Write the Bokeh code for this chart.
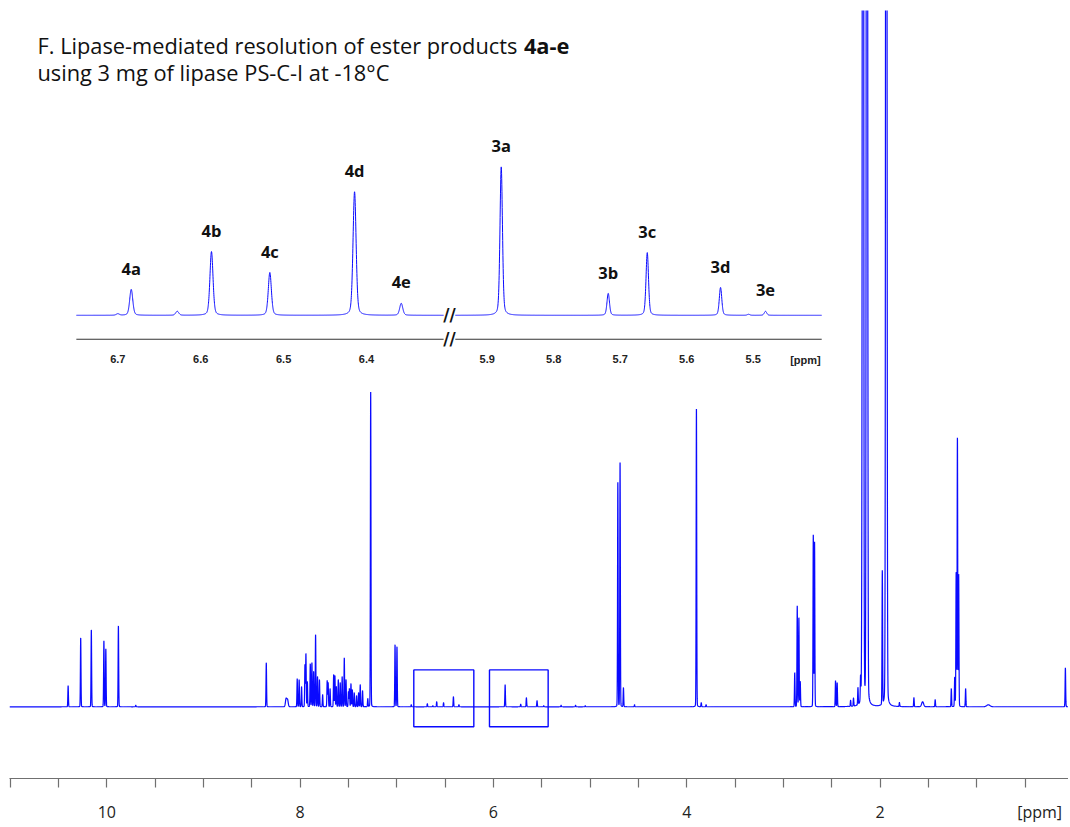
import numpy as np
from bokeh.plotting import figure
from bokeh.models import Range1d, FixedTicker, Label
from bokeh.core.properties import value
from bokeh.embed import file_html
from bokeh.resources import INLINE

# ---------------- data: main 1H spectrum peak list (ppm, intensity, half-width) ----------------
main_ppm = [10.40, 10.27, 10.16, 10.03, 10.01, 9.88, 9.70,
            8.35, 8.145, 8.13, 8.03, 8.01, 7.985, 7.95, 7.94, 7.925, 7.895, 7.878, 7.86, 7.84, 7.82,
            7.80, 7.767, 7.72, 7.71, 7.69, 7.653, 7.64, 7.625, 7.605, 7.585, 7.565, 7.543, 7.525,
            7.50, 7.49, 7.474, 7.46, 7.44, 7.416, 7.395, 7.378, 7.354, 7.30, 7.27,
            7.018, 6.998, 6.85,
            6.684, 6.627, 6.587, 6.516, 6.414, 6.357,
            5.879, 5.718, 5.659, 5.549, 5.48, 5.30, 5.15, 5.05,
            4.713, 4.690, 4.655, 4.54, 3.90, 3.85, 3.80,
            2.883, 2.857, 2.840, 2.826, 2.691, 2.678, 2.461, 2.444,
            2.305, 2.275, 2.229, 2.202, 2.19, 2.177, 2.136, 2.125,
            1.977, 1.936, 1.925, 1.80, 1.65, 1.56, 1.43,
            1.263, 1.228, 1.213, 1.200, 1.187, 1.115, 0.88, 0.083]
main_int = [21, 69, 77, 66, 58, 81, 1.5,
            44, 8, 7, 28, 27, 20, 42, 53, 25, 43, 44, 35, 72, 30,
            27, 12, 26, 24, 18, 32, 31, 20, 27, 24, 30, 49, 27,
            15, 18, 23, 17, 14, 11, 14, 22, 16, 8, 316,
            62, 60, 2,
            3, 1, 5, 4, 10, 2,
            22, 2.5, 9, 6, 1, 1.5, 1.5, 1,
            225, 245, 19, 2, 299, 4, 2,
            34, 101, 89, 25, 172, 165, 26, 24,
            6, 8, 17, 24, 30, 2500, 2500, 25,
            134, 2500, 28, 4, 9, 5, 7,
            18, 29, 134, 269, 132, 18, 2, 39]
main_hw = [0.0035] * len(main_ppm)
for i, ppm in enumerate(main_ppm):
    if ppm in (8.145, 8.13):
        main_hw[i] = 0.008
    if ppm in (1.56,):
        main_hw[i] = 0.012
    if ppm in (0.88,):
        main_hw[i] = 0.02
    if ppm in (2.177, 2.136, 1.936):
        main_hw[i] = 0.006
main_eta = 0.05

# boxes marking the expanded regions (ppm)
box_left = [6.824, 6.041]
box_right = [6.203, 5.434]

# main axis ticks (labels on even ppm values)
main_ticks = [11.0 - 0.5 * k for k in range(22)]

# ---------------- data: inset expansions ----------------
insL_ppm = [6.700, 6.6838, 6.6283, 6.5870, 6.5166, 6.4144, 6.3581]
insL_int = [1.5, 26, 4, 64, 43, 124, 12]
insR_ppm = [5.8789, 5.7180, 5.6593, 5.5491, 5.507, 5.4815]
insR_int = [149, 22, 63, 28, 1, 4]
inset_hw = 0.0022
inset_eta = 0.3

insL_lab_ppm = [6.6838, 6.5870, 6.5166, 6.4144, 6.3581]
insL_lab_int = [26, 64, 43, 124, 12]
insL_lab = ["4a", "4b", "4c", "4d", "4e"]
insR_lab_ppm = [5.8789, 5.7180, 5.6593, 5.5491, 5.4815]
insR_lab_int = [149, 22, 63, 28, 4]
insR_lab = ["3a", "3b", "3c", "3d", "3e"]

insL_limits = [6.75, 6.307]
insR_limits = [5.948, 5.397]
insL_ticks = [6.7, 6.6, 6.5, 6.4]
insR_ticks = [5.9, 5.8, 5.7, 5.6, 5.5]
break_ppm = 6.30


def spectrum(xs, pos, hgt, hw, eta):
    xs = np.asarray(xs, dtype=float)[:, None]
    pos = np.asarray(pos, dtype=float)[None, :]
    hgt = np.asarray(hgt, dtype=float)[None, :]
    hw = np.asarray(hw, dtype=float)[None, :] if np.ndim(hw) else hw
    u = ((xs - pos) / hw) ** 2
    shape = (1 - eta) * np.exp(-np.log(2) * u) + eta / (1.0 + u)
    return (hgt * shape).sum(axis=1)


BLUE = "#0a0aff"
X0, X1 = 11.0066, 0.0508

p = figure(width=1068, height=825,
           x_range=Range1d(X0, X1), y_range=Range1d(-72, 699),
           y_axis_location=None, output_backend="svg", toolbar_location=None,
           min_border_left=9, min_border_right=0, min_border_top=10, min_border_bottom=44)
p.grid.visible = False
p.outline_line_color = None
p.background_fill_color = "white"
p.border_fill_color = "white"

p.extra_x_ranges = {"insL": Range1d(6.83064, 5.5532), "insR": Range1d(6.61835, 5.02587)}
p.extra_y_ranges = {"ins": Range1d(-465, 306)}

# main spectrum
xs = np.linspace(X0, X1, 40000)
xs = np.sort(np.concatenate([xs, np.array(main_ppm)]))[::-1]
ys = spectrum(xs, main_ppm, main_int, main_hw, main_eta)
p.line(xs, ys, line_color=BLUE, line_width=1.2)

# boxes
p.quad(left=box_left, right=box_right, bottom=[-20, -20], top=[37, 37],
       fill_color=None, line_color=BLUE, line_width=1.4)

# main axis
ax = p.xaxis[0]
ax.ticker = FixedTicker(ticks=main_ticks)
overrides = {}
for t in main_ticks:
    if abs(t - round(t)) < 1e-9 and int(round(t)) % 2 == 0:
        overrides[t] = str(int(round(t)))
    else:
        overrides[t] = ""
overrides[0.5] = "\u00a0" * 7 + "[ppm]"
ax.major_label_overrides = overrides
ax.minor_tick_line_color = None
ax.major_tick_in = 0
ax.major_tick_out = 9
ax.axis_line_color = "#707070"
ax.major_tick_line_color = "#707070"
ax.axis_line_width = 1.2
ax.major_tick_line_width = 1.2
ax.major_label_text_font = "Open Sans"
ax.major_label_text_font_size = "16px"
ax.major_label_text_color = "#222222"
ax.major_label_standoff = 13

# title
TFS = "21.8px"
p.add_layout(Label(x=10.717, y=664, text="F. Lipase-mediated resolution of ester products",
                   text_font="Open Sans", text_font_size=TFS, text_color="#111111",
                   text_align="left", text_baseline="alphabetic"))
p.add_layout(Label(x=5.685, y=664, text="4a-e",
                   text_font="Open Sans", text_font_size=TFS, text_font_style="bold",
                   text_color="#111111", text_align="left", text_baseline="alphabetic"))
p.add_layout(Label(x=10.717, y=637, text="using 3 mg of lipase PS-C-I at -18°C",
                   text_font="Open Sans", text_font_size=TFS, text_color="#111111",
                   text_align="left", text_baseline="alphabetic"))

# inset spectra
xl = np.linspace(insL_limits[0], insL_limits[1], 3000)
p.line(xl, spectrum(xl, insL_ppm, insL_int, inset_hw, inset_eta), line_color=BLUE, line_width=1.0,
       x_range_name="insL", y_range_name="ins")
xr = np.linspace(insR_limits[0], insR_limits[1], 3000)
p.line(xr, spectrum(xr, insR_ppm, insR_int, inset_hw, inset_eta), line_color=BLUE, line_width=1.0,
       x_range_name="insR", y_range_name="ins")

# inset axis lines
AXY = -24
p.segment(x0=[insL_limits[0]], x1=[insL_limits[1]], y0=[AXY], y1=[AXY], line_color="#333333",
          line_width=1.1, x_range_name="insL", y_range_name="ins")
p.segment(x0=[insR_limits[0]], x1=[insR_limits[1]], y0=[AXY], y1=[AXY], line_color="#333333",
          line_width=1.1, x_range_name="insR", y_range_name="ins")

# inset tick labels
tick_font = dict(text_font=value("Liberation Sans"), text_font_style="bold", text_font_size="11px",
                 text_color="#222222", text_baseline="middle", y_range_name="ins")
p.text(x=insL_ticks, y=[AXY] * len(insL_ticks), text=[f"{t:.1f}" for t in insL_ticks],
       text_align="center", y_offset=20, x_range_name="insL", **tick_font)
p.text(x=insR_ticks, y=[AXY] * len(insR_ticks), text=[f"{t:.1f}" for t in insR_ticks],
       text_align="center", y_offset=20, x_range_name="insR", **tick_font)
p.text(x=[insR_limits[1]], y=[AXY], text=["[ppm]"], text_align="right", y_offset=21, x_offset=-1,
       x_range_name="insR", **tick_font)

# axis / baseline breaks
p.text(x=[break_ppm, break_ppm], y=[0, AXY], text=["//", "//"],
       text_font=value("DejaVu Sans"), text_font_style="bold", text_font_size="17px",
       text_color="#111111", text_align="center", text_baseline="middle",
       x_range_name="insL", y_range_name="ins")

# peak labels
lab_font = dict(text_font=value("Open Sans"), text_font_style="bold", text_font_size="16.5px",
                text_color="#111111", text_align="center", text_baseline="middle", y_offset=-21,
                y_range_name="ins")
p.text(x=insL_lab_ppm, y=insL_lab_int, text=insL_lab, x_range_name="insL", **lab_font)
p.text(x=insR_lab_ppm, y=insR_lab_int, text=insR_lab, x_range_name="insR", **lab_font)

open("out.html", "w").write(file_html(p, INLINE))
